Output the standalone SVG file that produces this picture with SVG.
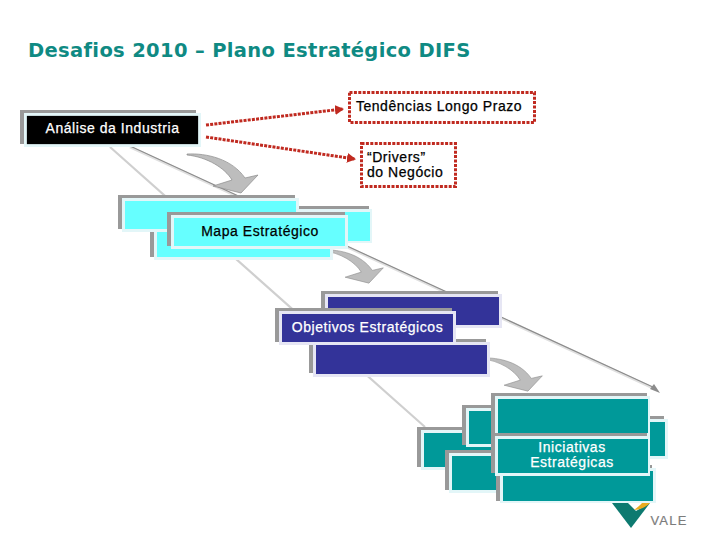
<svg xmlns="http://www.w3.org/2000/svg" width="720" height="540" viewBox="0 0 720 540">
<style>
text{font-family:"Liberation Sans",Arial,sans-serif;font-size:14px;text-anchor:middle;letter-spacing:.55px}
.title{font-family:"DejaVu Sans",sans-serif;font-weight:700;font-size:19.500px;fill:#0f8a83;text-anchor:start;letter-spacing:.34px}
.g{fill:#999}
.lc{fill:#e3f6f8}
.ln{fill:#e6e6f4}
.cy{fill:#66ffff}
.bl{fill:#333399}
.te{fill:#009999}
.dot{fill:#fff;stroke:#c02a20;stroke-width:3;stroke-dasharray:3 1.400}
.red{fill:none;stroke:#c02a20;stroke-width:3;stroke-dasharray:3 1.200}
.b{fill:#000;stroke:#000;stroke-width:.25}
.w{fill:#fff;stroke:#fff;stroke-width:.25}
.curve{fill:#bdbdbd;stroke:#8a8a8a;stroke-width:.7}
.start{text-anchor:start}
</style>
<defs>
<marker id="ra" markerUnits="userSpaceOnUse" markerWidth="10" markerHeight="10" refX="8" refY="5" orient="auto"><path d="M0 0L9 5L0 10Z" fill="#c02a20"/></marker>
<path id="curve" d="M0 0C20-1 45 5 58 24L71 21L54 39L26 32L45 26C38 14 20 3 0 1Z"/>
</defs>
<text class="title" x="28" y="57">Desafios 2010 – Plano Estratégico DIFS</text>
<g id="connectors">
<path d="M110 147L425 427" fill="none" stroke="#cfcfcf" stroke-width="2.200"/>
<path d="M130 147L655 389" fill="none" stroke="#e0e0e0" stroke-width="2.600"/>
<path d="M130 146L655 388" fill="none" stroke="#8c8c8c" stroke-width="1.200"/>
<path d="M650 389L660 393L654 384Z" fill="#8c8c8c"/>
<path class="red" d="M206 125L343 109" marker-end="url(#ra)"/>
<path class="red" d="M206 137L355 159" marker-end="url(#ra)"/>
<use href="#curve" class="curve" transform="translate(187 154)"/>
<use href="#curve" class="curve" transform="translate(323 250) scale(.85)"/>
<use href="#curve" class="curve" transform="translate(482 358) scale(.85)"/>
</g>
<g id="node-analise">
<rect class="g" x="20" y="110" width="176" height="34"/><rect class="lc" x="24" y="113" width="177" height="34"/><rect class="b" x="27" y="116" width="171" height="28"/>
<text class="w" x="112.500" y="133">Análise da Industria</text>
</g>
<g id="node-tendencias"><rect class="dot" x="349.500" y="92.500" width="185" height="30"/><text class="b" x="439" y="111">Tendências Longo Prazo</text></g>
<g id="node-drivers"><rect class="dot" x="361.500" y="143.500" width="94" height="43"/><text class="b start" x="367" y="162">“Drivers”<tspan x="367" dy="15">do Negócio</tspan></text></g>
<g id="node-mapa-back-right"><rect class="g" x="200" y="206" width="169" height="32"/><rect class="lc" x="204" y="209" width="168" height="34"/><rect class="cy" x="207" y="212" width="163" height="29"/></g>
<g id="node-mapa-back-lower"><rect class="g" x="150" y="225" width="177" height="32"/><rect class="lc" x="154" y="228" width="179" height="32"/><rect class="cy" x="157" y="231" width="173" height="26"/></g>
<g id="node-mapa-back-top"><rect class="g" x="118" y="195" width="177" height="34"/><rect class="lc" x="122" y="198" width="177" height="34"/><rect class="cy" x="125" y="201" width="171" height="28"/></g>
<g id="node-mapa"><rect class="g" x="167" y="212" width="178" height="34"/><rect class="lc" x="171" y="215" width="177" height="34"/><rect class="cy" x="174" y="218" width="171" height="28"/><text class="b" x="260" y="236">Mapa Estratégico</text></g>
<g id="node-obj-top"><rect class="g" x="321" y="291" width="177" height="34"/><rect class="ln" x="325" y="294" width="177" height="34"/><rect class="bl" x="328" y="297" width="171" height="28"/></g>
<g id="node-obj-lower"><rect class="g" x="309" y="339" width="177" height="34"/><rect class="ln" x="313" y="342" width="177" height="35"/><rect class="bl" x="316" y="345" width="171" height="29"/></g>
<g id="node-obj"><rect class="g" x="275" y="308" width="177" height="34"/><rect class="ln" x="279" y="311" width="177" height="34"/><rect class="bl" x="282" y="314" width="171" height="28"/><text class="w" x="367.500" y="332">Objetivos Estratégicos</text></g>
<g id="logo">
<path d="M612 503H650L631 528Z" fill="#0d7a70"/><path d="M628 503L636 511L650 503Z" fill="#fff"/><path d="M634 510C640 510 646 507 650 503L642 503C640 505 637 508 634 510Z" fill="#e8ac20"/>
<text x="669" y="525" style="font-size:13px;letter-spacing:1.200px;fill:#7c7c7c;stroke:#7c7c7c;stroke-width:.2">VALE</text>
</g>
<g id="node-ini-a"><rect class="g" x="417" y="427" width="177" height="40"/><rect class="lc" x="421" y="430" width="177" height="40"/><rect class="te" x="424" y="433" width="171" height="34"/></g>
<g id="node-ini-c"><rect class="g" x="462" y="405" width="177" height="40"/><rect class="lc" x="466" y="408" width="177" height="39"/><rect class="te" x="469" y="411" width="171" height="33"/></g>
<g id="node-ini-d"><rect class="g" x="510" y="416" width="154" height="40"/><rect class="lc" x="514" y="419" width="154" height="40"/><rect class="te" x="517" y="422" width="148" height="34"/></g>
<g id="node-ini-b"><rect class="g" x="445" y="450" width="177" height="40"/><rect class="lc" x="449" y="453" width="177" height="40"/><rect class="te" x="452" y="456" width="171" height="34"/></g>
<g id="node-ini-lower"><rect class="g" x="496" y="465" width="156" height="36"/><rect class="lc" x="500" y="468" width="156" height="35"/><rect class="te" x="503" y="471" width="150" height="30"/></g>
<g id="node-ini-top"><rect class="g" x="491" y="393" width="156" height="40"/><rect class="lc" x="495" y="396" width="155" height="40"/><rect class="te" x="498" y="399" width="150" height="34"/></g>
<g id="node-ini"><rect class="g" x="491" y="433" width="156" height="40"/><rect class="lc" x="495" y="436" width="155" height="40"/><rect class="te" x="498" y="439" width="150" height="34"/><text class="w" x="572" y="452">Iniciativas<tspan x="572" dy="14.500">Estratégicas</tspan></text></g>
</svg>
